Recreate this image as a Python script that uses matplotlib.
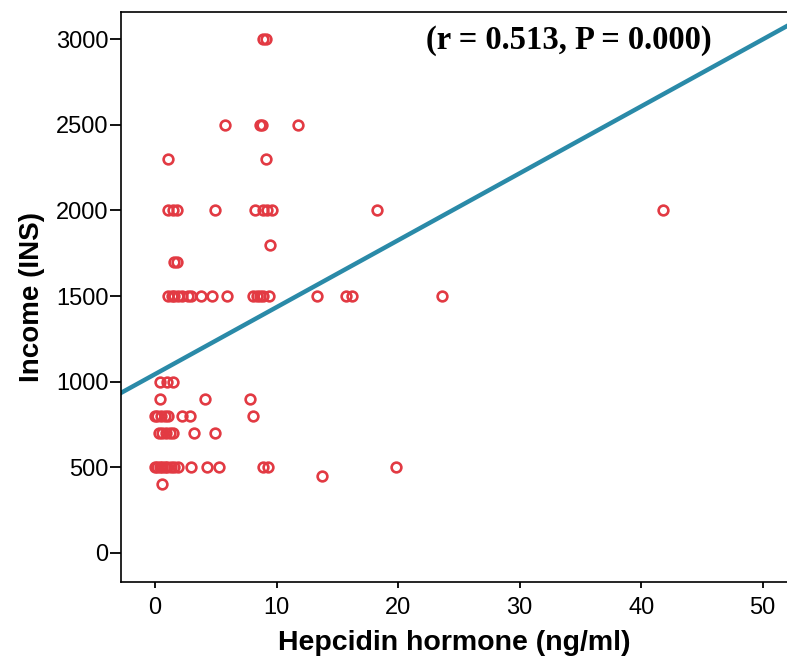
import matplotlib
matplotlib.use("Agg")
import matplotlib.pyplot as plt
import numpy as np

# Data (Hepcidin ng/ml vs Income INS)
hepcidin_3000 = [8.9, 9.1]
hepcidin_2500 = [5.8, 8.6, 8.8, 11.8]
hepcidin_2300 = [1.1, 9.1]
hepcidin_2000 = [1.1, 1.5, 1.8, 4.9, 8.2, 8.9, 9.2, 9.6, 18.3, 41.8]
hepcidin_1800 = [9.5]
hepcidin_1700 = [1.6, 1.8]
hepcidin_1500 = [1.1, 1.4, 1.6, 1.9, 2.2, 2.7, 3.0, 3.8, 4.7, 5.9,
                 8.1, 8.4, 8.6, 8.9, 9.4, 13.3, 15.7, 16.2, 23.6]
hepcidin_1000 = [0.4, 1.0, 1.5]
hepcidin_900 = [0.4, 4.1, 7.8]
hepcidin_800 = [0.0, 0.2, 0.5, 0.8, 1.1, 2.2, 2.9, 8.1]
hepcidin_700 = [0.3, 0.6, 0.9, 1.2, 1.5, 3.2, 4.9]
hepcidin_500 = [0.0, 0.2, 0.4, 0.6, 0.8, 1.0, 1.3, 1.6, 1.9, 3.0, 4.3, 5.3,
                8.9, 9.3, 19.8]
hepcidin_450 = [13.7]
hepcidin_400 = [0.6]

income_levels = [3000, 2500, 2300, 2000, 1800, 1700, 1500, 1000, 900, 800,
                 700, 500, 450, 400]
hepcidin_groups = [hepcidin_3000, hepcidin_2500, hepcidin_2300, hepcidin_2000,
                   hepcidin_1800, hepcidin_1700, hepcidin_1500, hepcidin_1000,
                   hepcidin_900, hepcidin_800, hepcidin_700, hepcidin_500,
                   hepcidin_450, hepcidin_400]

fit_intercept = 1044.0
fit_slope = 39.1

x_ticks = [0, 10, 20, 30, 40, 50]
y_ticks = [0, 500, 1000, 1500, 2000, 2500, 3000]
annotation = "(r = 0.513, P = 0.000)"

xs = np.concatenate([np.array(g, float) for g in hepcidin_groups])
ys = np.concatenate([np.full(len(g), lvl, float) for g, lvl in zip(hepcidin_groups, income_levels)])

fig = plt.figure(figsize=(7.87, 6.71), dpi=100)
ax = fig.add_axes([0.1537, 0.1331, 0.8463, 0.8495])

xlim = (-2.8, 52.0)
ylim = (-168, 3161)
ax.set_xlim(*xlim)
ax.set_ylim(*ylim)

ax.plot(xs, ys, linestyle="none", marker="o", markersize=7,
        markerfacecolor="none", markeredgecolor="#e23a43", markeredgewidth=1.9,
        zorder=3)

lx = np.array(xlim)
ax.plot(lx, fit_intercept + fit_slope * lx, color="#2a8aa8", linewidth=3.2, zorder=2)

ax.text(0.6727, 0.950, annotation, transform=ax.transAxes, ha="center", va="center",
        fontsize=23.5, fontweight="bold", family="Liberation Serif")

ax.set_xticks(x_ticks)
ax.set_yticks(y_ticks)
ax.tick_params(axis="x", direction="out", length=4, width=1.3, labelsize=17, pad=7)
ax.tick_params(axis="y", direction="out", length=8, width=1.3, labelsize=17, pad=1)
for lab in ax.get_xticklabels() + ax.get_yticklabels():
    lab.set_family("Liberation Sans")

ax.set_xlabel("Hepcidin hormone (ng/ml)", fontsize=20.5, fontweight="bold",
              family="Liberation Sans", labelpad=8)
ax.set_ylabel("Income (INS)", fontsize=20, fontweight="bold",
              family="Liberation Sans", labelpad=8)

for s in ["left", "bottom", "top"]:
    ax.spines[s].set_linewidth(1.2)
ax.spines["right"].set_visible(False)

fig.savefig("out.png", dpi=100)
